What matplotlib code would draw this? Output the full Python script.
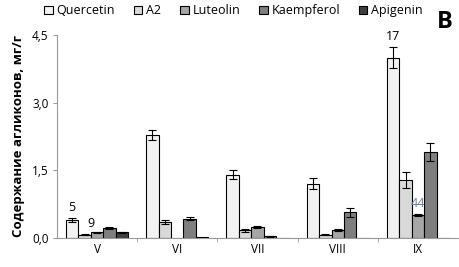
import numpy as np
import matplotlib.pyplot as plt

months = ['V', 'VI', 'VII', 'VIII', 'IX']
series = ['Quercetin', 'A2', 'Luteolin', 'Kaempferol', 'Apigenin']
quercetin = [0.40, 2.28, 1.40, 1.20, 4.00]
a2 = [0.07, 0.35, 0.17, 0.07, 1.29]
luteolin = [0.12, 0.00, 0.24, 0.17, 0.51]
kaempferol = [0.22, 0.43, 0.04, 0.57, 1.91]
apigenin = [0.12, 0.03, 0.00, 0.00, 0.00]
quercetin_err = [0.04, 0.11, 0.10, 0.12, 0.24]
a2_err = [0.01, 0.05, 0.03, 0.01, 0.18]
luteolin_err = [0.02, 0.00, 0.03, 0.02, 0.02]
kaempferol_err = [0.02, 0.03, 0.01, 0.10, 0.20]
apigenin_err = [0.01, 0.00, 0.00, 0.00, 0.00]
colors = ['#f2f2f2', '#d9d9d9', '#a6a6a6', '#7f7f7f', '#3f3f3f']

values = [quercetin, a2, luteolin, kaempferol, apigenin]
errors = [quercetin_err, a2_err, luteolin_err, kaempferol_err, apigenin_err]

plt.rcParams['font.family'] = ['Open Sans', 'DejaVu Sans']

fig = plt.figure(figsize=(4.59, 2.67), dpi=100)
ax = fig.add_axes([0.124, 0.109, 0.874, 0.760])

x = np.arange(len(months))
w = 0.155
for i, (name, v, e, c) in enumerate(zip(series, values, errors, colors)):
    pos = x + (i - 2) * w
    ax.bar(pos, v, w, color=c, edgecolor='black', linewidth=0.8, label=name)
    mask = np.array(e) > 0
    ax.errorbar(pos[mask], np.array(v)[mask], yerr=np.array(e)[mask], fmt='none',
                ecolor='black', elinewidth=0.8, capsize=3, capthick=0.8)

# numbers over some bars
ax.text(x[0] - 2 * w, 0.52, '5', ha='center', va='bottom', fontsize=9)
ax.text(x[0] - 0.5 * w, 0.17, '9', ha='center', va='bottom', fontsize=9)
ax.text(x[4] - 2 * w, 4.32, '17', ha='center', va='bottom', fontsize=9)
ax.text(x[4], 0.62, '44', ha='center', va='bottom', fontsize=9, color='#6a7f9a')

ax.set_xlim(-0.5, 4.5)
ax.set_ylim(0, 4.5)
ax.set_yticks([0, 1.5, 3.0, 4.5])
ax.set_yticklabels(['0,0', '1,5', '3,0', '4,5'], fontsize=8.5)
ax.set_xticks(x)
ax.set_xticklabels(months, fontsize=8.5)
ax.tick_params(axis='x', length=0, pad=4)
ax.set_xticks(np.arange(0.5, 4.5, 1), minor=True)
ax.tick_params(axis='x', which='minor', length=3, color='#999999')
ax.tick_params(axis='y', length=3, color='#999999', pad=3)
for s in ['top', 'right']:
    ax.spines[s].set_visible(False)
ax.spines['left'].set_color('#999999')
ax.spines['bottom'].set_color('#999999')

ax.set_ylabel('Содержание агликонов, мг/г', fontsize=9.5, fontweight='bold', labelpad=5)

ax.legend(loc='upper left', bbox_to_anchor=(-0.045, 1.175), ncol=5, frameon=False,
          fontsize=9, handlelength=0.7, handleheight=0.7, handletextpad=0.3,
          columnspacing=1.5, borderaxespad=0)
fig.text(0.952, 0.895, 'B', fontsize=17, fontweight='bold')

fig.savefig('out.png', dpi=100)
